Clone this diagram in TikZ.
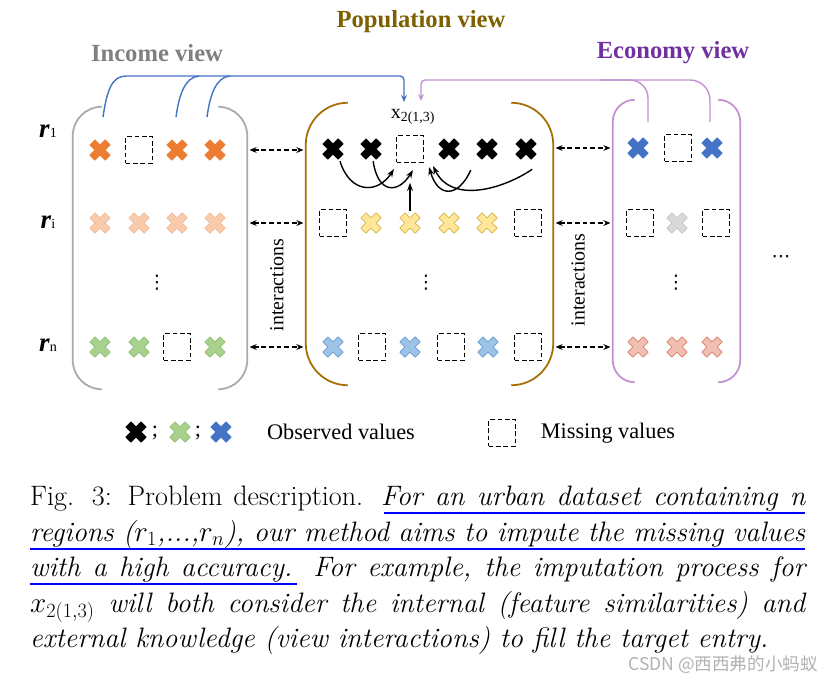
\documentclass[tikz,border=0pt]{standalone}
\usepackage{fontspec}
\newfontfamily\tnr{Liberation Serif}
\newfontfamily\djv{DejaVu Sans}
\newfontfamily\cjk{Noto Sans CJK SC}
\usetikzlibrary{arrows.meta, positioning, calc}
\definecolor{popc}{RGB}{165, 110, 0}
\definecolor{poptitle}{RGB}{127, 96, 0}
\definecolor{incc}{RGB}{170, 170, 170}
\definecolor{inctitle}{RGB}{128, 128, 128}
\definecolor{ecoc}{RGB}{195, 145, 210}
\definecolor{ecotitle}{RGB}{112, 48, 160}
\definecolor{blink}{RGB}{68, 114, 196}
\definecolor{xorange}{RGB}{237, 125, 49}
\definecolor{xpeach}{RGB}{248, 203, 173}
\definecolor{xpeachd}{RGB}{244, 185, 150}
\definecolor{xgreen}{RGB}{169, 209, 142}
\definecolor{xgreend}{RGB}{140, 190, 110}
\definecolor{xyellow}{RGB}{255, 230, 153}
\definecolor{xyellowd}{RGB}{214, 180, 70}
\definecolor{xlblue}{RGB}{157, 195, 230}
\definecolor{xlblued}{RGB}{100, 155, 210}
\definecolor{xblue}{RGB}{68, 114, 196}
\definecolor{xgray}{RGB}{217, 217, 217}
\definecolor{xgrayd}{RGB}{195, 195, 195}
\definecolor{xsalmon}{RGB}{240, 190, 178}
\definecolor{xsalmond}{RGB}{215, 130, 100}
\definecolor{uline}{RGB}{0, 0, 255}

\begin{document}
\begin{tikzpicture}[
                x=0.03cm, y=-0.03cm,
                title/.style={font=\tnr\fontsize{21}{24}\selectfont\bfseries},
                rlab/.style={font=\tnr\fontsize{23}{24}\selectfont},
                txt/.style={font=\tnr\fontsize{17}{20}\selectfont},
                dots/.style={font=\djv\fontsize{16}{18}\selectfont, inner sep=0pt},
                leg/.style={font=\tnr\fontsize{19}{22}\selectfont},
                frame/.style={rectangle, inner sep=0pt, minimum height=8.46cm},
                xm/.style n args={3}{minimum size=0.72cm, inner sep=0pt,
                    path picture={\filldraw[fill=#1, draw=#2, line width=0.6pt,
                        line join=round, shift={(path picture bounding box.center)}, scale=#3]
                        (0,5.2) -- (5.06,10.2) -- (10.2,5.06) -- (5.2,0) -- (10.2,-5.06)
                        -- (5.06,-10.2) -- (0,-5.2) -- (-5.06,-10.2) -- (-10.2,-5.06)
                        -- (-5.2,0) -- (-10.2,5.06) -- (-5.06,10.2) -- cycle;}},
                xmark/.style 2 args={xm={#1}{#2}{1}},
                miss/.style={rectangle, draw, dash pattern=on 4pt off 2.3pt,
                    line width=1.25pt, minimum size=0.8cm, inner sep=0pt},
                inter/.style={{Stealth[length=6pt,width=5pt]}-{Stealth[length=6pt,width=5pt]},
                    dash pattern=on 4pt off 2.5pt, line width=1.4pt,
                    shorten <=2pt, shorten >=2pt},
                carrow/.style={-{Stealth[length=7pt,width=5pt]}, line width=1.2pt},
                bline/.style={draw=blink, line width=1.2pt},
                pline/.style={draw=ecoc, line width=1.2pt}
                ]
                \useasboundingbox[fill=white] (0,0) rectangle (836,686);

                % view titles
                \node[title, text=poptitle] (tpop) at (421,22) {Population view};
                \node[title, text=inctitle] (tinc) at (157,53) {Income view};
                \node[title, text=ecotitle] (teco) at (673,53) {Economy view};

                % view frames
                \node[frame, minimum width=5.22cm] (inc) at (160,248) {};
                \node[frame, minimum width=7.41cm] (pop) at (429.5,244) {};
                \node[frame, minimum width=3.81cm] (eco) at (676.5,241) {};
                \draw[incc, line width=1.5pt, rounded corners=0.87cm]
                    ([xshift=0.87cm]inc.north west) -- (inc.north west)
                    -- (inc.south west) -- ([xshift=0.87cm]inc.south west);
                \draw[incc, line width=1.5pt, rounded corners=0.87cm]
                    ([xshift=-0.87cm]inc.north east) -- (inc.north east)
                    -- (inc.south east) -- ([xshift=-0.87cm]inc.south east);
                \draw[popc, line width=1.5pt, rounded corners=1.26cm]
                    ([xshift=1.26cm]pop.north west) -- (pop.north west)
                    -- (pop.south west) -- ([xshift=1.26cm]pop.south west);
                \draw[popc, line width=1.5pt, rounded corners=1.26cm]
                    ([xshift=-1.26cm]pop.north east) -- (pop.north east)
                    -- (pop.south east) -- ([xshift=-1.26cm]pop.south east);
                \draw[ecoc, line width=1.5pt, rounded corners=0.66cm]
                    ([xshift=0.66cm]eco.north west) -- (eco.north west)
                    -- (eco.south west) -- ([xshift=0.66cm]eco.south west);
                \draw[ecoc, line width=1.5pt, rounded corners=0.66cm]
                    ([xshift=-0.66cm]eco.north east) -- (eco.north east)
                    -- (eco.south east) -- ([xshift=-0.66cm]eco.south east);

                % region labels
                \node[rlab] (r1) at (48,131) {\textbf{\textit{r}}{\fontsize{12}{12}\selectfont 1}};
                \node[rlab] (ri) at (48,222) {\textbf{\textit{r}}{\fontsize{12}{12}\selectfont i}};
                \node[rlab] (rn) at (48,345) {\textbf{\textit{r}}{\fontsize{12}{12}\selectfont n}};

                % income view
                \node[xmark={xorange}{xorange}] (i11) at (100,150) {};
                \node[miss] (i12) at (139,150) {};
                \node[xmark={xorange}{xorange}] (i13) at (177,150) {};
                \node[xmark={xorange}{xorange}] (i14) at (215,150) {};
                \node[xmark={xpeach}{xpeachd}] (i21) at (100,223) {};
                \node[xmark={xpeach}{xpeachd}] (i22) at (139,223) {};
                \node[xmark={xpeach}{xpeachd}] (i23) at (177,223) {};
                \node[xmark={xpeach}{xpeachd}] (i24) at (215,223) {};
                \node[dots] (idots) at (157,283) {⋮};
                \node[xmark={xgreen}{xgreend}] (i31) at (100,347) {};
                \node[xmark={xgreen}{xgreend}] (i32) at (139,347) {};
                \node[miss] (i33) at (177,347) {};
                \node[xmark={xgreen}{xgreend}] (i34) at (215,347) {};

                % population view
                \node[xmark={black}{black}] (p11) at (333,149) {};
                \node[xmark={black}{black}] (p12) at (371,149) {};
                \node[miss] (p13) at (410,149) {};
                \node[xmark={black}{black}] (p14) at (449,149) {};
                \node[xmark={black}{black}] (p15) at (487,149) {};
                \node[xmark={black}{black}] (p16) at (526,149) {};
                \node[txt] (xlab) at (413,117) {x\textsubscript{2(1,3)}};
                \node[miss] (p21) at (333,223) {};
                \node[xmark={xyellow}{xyellowd}] (p22) at (371,223) {};
                \node[xmark={xyellow}{xyellowd}] (p23) at (410,223) {};
                \node[xmark={xyellow}{xyellowd}] (p24) at (449,223) {};
                \node[xmark={xyellow}{xyellowd}] (p25) at (487,223) {};
                \node[miss] (p26) at (528,223) {};
                \node[dots] (pdots) at (426,283) {⋮};
                \node[xmark={xlblue}{xlblued}] (p31) at (333,347) {};
                \node[miss] (p32) at (372,347) {};
                \node[xmark={xlblue}{xlblued}] (p33) at (410,347) {};
                \node[miss] (p34) at (451,347) {};
                \node[xmark={xlblue}{xlblued}] (p35) at (488,347) {};
                \node[miss] (p36) at (528,347) {};

                % economy view
                \node[xmark={xblue}{xblue}] (e11) at (638,148) {};
                \node[miss] (e12) at (678,148) {};
                \node[xmark={xblue}{xblue}] (e13) at (712,148) {};
                \node[miss] (e21) at (640,223) {};
                \node[xmark={xgray}{xgrayd}] (e22) at (677,223) {};
                \node[miss] (e23) at (716,223) {};
                \node[dots] (edots) at (676,283) {⋮};
                \node[xmark={xsalmon}{xsalmond}] (e31) at (638,347) {};
                \node[xmark={xsalmon}{xsalmond}] (e32) at (677,347) {};
                \node[xmark={xsalmon}{xsalmond}] (e33) at (712,347) {};
                \node[dots] (more) at (781,259) {⋯};

                % view interactions
                \draw[inter] (inc.east |- i11) -- (pop.west |- i11);
                \draw[inter] (inc.east |- i21) -- (pop.west |- i21);
                \draw[inter] (inc.east |- i31) -- (pop.west |- i31);
                \draw[inter] (pop.east |- e11) -- (eco.west |- e11);
                \draw[inter] (pop.east |- e21) -- (eco.west |- e21);
                \draw[inter] (pop.east |- e31) -- (eco.west |- e31);
                \node[txt, rotate=90] (int1) at (277,285) {interactions};
                \node[txt, rotate=90] (int2) at (578,280) {interactions};

                % internal similarities
                \draw[carrow] (p11.-60) .. controls (350,194) and (378,194)
                    .. ($(p13.south west)+(-2,6)$);
                \draw[carrow] (p12.-80) .. controls (378,194) and (398,194)
                    .. ($(p13.south)+(3,7)$);
                \draw[carrow] (p23.north) -- ++(0,-28);
                \draw[carrow] ($(p15.south west)+(-4,9)$) .. controls (458,198) and (438,198)
                    .. ($(p13.south east)+(5,4)$);
                \draw[carrow] ($(p16.south east)+(-6,8)$) .. controls (505,188) and (452,205)
                    .. ($(p13.south east)+(9,3)$);

                % external knowledge
                \coordinate (b1) at (103,117);
                \coordinate (b2) at (176,117);
                \coordinate (b3) at (207,117);
                \coordinate (btip) at (404,102);
                \draw[bline, -{Stealth[length=6pt,width=5pt]}] (b1) .. controls (107,90) and (112,76)
                    .. (126,76) -- (400,76) .. controls (402.2,76) and (404,77.8) .. (404,80) -- (btip);
                \draw[bline] (b2) .. controls (179,95) and (185,77) .. (199,76);
                \draw[bline] (b3) .. controls (210,95) and (216,77) .. (230,76);
                \coordinate (c1) at (648,122);
                \coordinate (c2) at (710,122);
                \coordinate (ptip) at (421,101);
                \draw[pline, -{Stealth[length=6pt,width=5pt]}] (c2) -- (710,100)
                    .. controls (710,89) and (701,80) .. (690,80) -- (425,80)
                    .. controls (422.8,80) and (421,81.8) .. (421,84) -- (ptip);
                \draw[pline] (c1) -- (648,98) .. controls (648,88) and (640,80) .. (630,80) -- (600,80);

                % legend
                \node[xm={black}{black}{0.8}] (lx1) at (136,432) {};
                \node[leg] (ls1) at (155,433) {;};
                \node[xm={xgreen}{xgreend}{0.8}] (lx2) at (180,432) {};
                \node[leg] (ls2) at (198,433) {;};
                \node[xm={xblue}{xblue}{0.8}] (lx3) at (221,432) {};
                \node[leg] (lobs) at (341,432) {Observed values};
                \node[miss] (lmiss) at (502,433) {};
                \node[leg] (lmv) at (608,433) {Missing values};

                % caption
                \node[anchor=north west, inner sep=0pt, text width=23.25cm, align=justify,
                    font=\fontsize{24}{30.3}\selectfont] (cap) at (30,486)
                    {Fig. 3: Problem description. \textit{For an urban dataset containing n\linebreak
                    regions ($r_1$,...,$r_n$), our method aims to impute the missing values\linebreak
                    with a high accuracy. For example, the imputation process for\linebreak
                    $x_{2(1,3)}$ will both consider the internal (feature similarities) and\linebreak
                    external knowledge (view interactions) to fill the target entry.}};
                \draw[uline, line width=2.5pt] (384,513) -- (805,513);
                \draw[uline, line width=2.5pt] (30,549) -- (805,549);
                \draw[uline, line width=2.5pt] (30,584) -- (297,584);
                \node[anchor=east, font=\cjk\fontsize{15}{15}\selectfont, text=black!30] (wm)
                    at (822,665) {CSDN @西西弗的小蚂蚁};
            \end{tikzpicture}
\end{document}
